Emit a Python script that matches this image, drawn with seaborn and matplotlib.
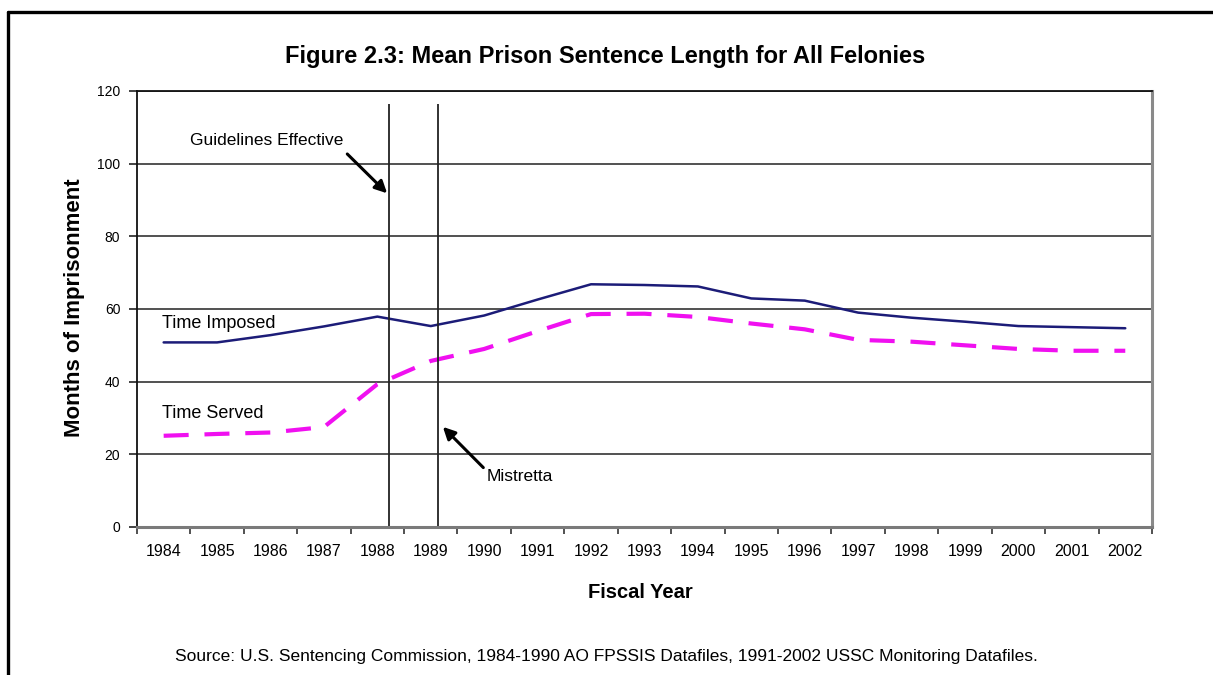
import numpy as np
import pandas as pd
import matplotlib
matplotlib.use("Agg")
import matplotlib.pyplot as plt
import seaborn as sns
from matplotlib.lines import Line2D

# Fiscal years on the category axis
years = ["1984", "1985", "1986", "1987", "1988", "1989", "1990", "1991", "1992", "1993",
         "1994", "1995", "1996", "1997", "1998", "1999", "2000", "2001", "2002"]

# Mean months of imprisonment
time_imposed = [50.8, 50.8, 52.8, 55.2, 57.9, 55.3, 58.2, 62.6, 66.8, 66.6,
                66.2, 62.9, 62.3, 59.0, 57.6, 56.5, 55.3, 55.0, 54.7]
time_served = [25.1, 25.6, 26.0, 27.5, 39.3, 45.7, 49.0, 53.9, 58.6, 58.7,
               57.8, 56.0, 54.4, 51.5, 51.0, 50.0, 49.0, 48.5, 48.5]

series_names = ["Time Imposed", "Time Served"]
y_ticks = [0, 20, 40, 60, 80, 100, 120]

# Policy events marked on the timeline (position in category units)
events = ["Guidelines Effective", "Mistretta"]
event_pos = [4.22, 5.14]

sns.set_theme(style="white")
plt.rcParams["font.family"] = ["Liberation Sans", "DejaVu Sans"]
plt.rcParams.update({"text.color": "black", "axes.labelcolor": "black",
                     "xtick.color": "black", "ytick.color": "black"})

fig = plt.figure(figsize=(12.13, 6.75), dpi=100)
ax = fig.add_axes([0.1129, 0.2193, 0.8368, 0.6459])

idx = np.arange(len(years))
df = pd.DataFrame({
    "pos": np.concatenate([idx, idx]),
    "months": time_imposed + time_served,
    "series": [series_names[0]] * len(years) + [series_names[1]] * len(years),
})

sns.lineplot(data=df[df.series == series_names[0]], x="pos", y="months",
             color="#1c1c78", linewidth=1.8, ax=ax, legend=False)
sns.lineplot(data=df[df.series == series_names[1]], x="pos", y="months",
             color="#f010f0", linewidth=3.0, ax=ax, legend=False,
             dashes=False)
ax.lines[-1].set_dashes((6.0, 3.8))

ax.set_xlim(-0.5, len(years) - 0.5)
ax.set_ylim(0, 120)

# Horizontal gridlines
ax.set_yticks(y_ticks)
ax.set_yticklabels([str(v) for v in y_ticks], fontsize=10)
ax.yaxis.grid(True, color="#222222", linewidth=1.1)
ax.xaxis.grid(False)
ax.set_axisbelow(True)

# Category axis: tick marks between years, labels at year centers
ax.set_xticks(np.arange(-0.5, len(years), 1.0))
ax.set_xticklabels([])
ax.set_xticks(idx, minor=True)
ax.set_xticklabels(years, minor=True, fontsize=11.5)
ax.tick_params(axis="x", which="major", direction="out", length=5, width=1.2,
               color="#333333", bottom=True)
ax.tick_params(axis="x", which="minor", length=0, pad=12)
ax.tick_params(axis="y", direction="out", length=6, width=1.2, color="#222222",
               left=True, pad=6)
ax.set_xlabel("")
ax.set_ylabel("")

for side in ["left", "top"]:
    ax.spines[side].set_color("#111111")
    ax.spines[side].set_linewidth(1.3)
ax.spines["right"].set_color("#8a8a8a")
ax.spines["right"].set_linewidth(2.2)
ax.spines["bottom"].set_color("#7a7a7a")
ax.spines["bottom"].set_linewidth(2.2)

# Event marker lines
ax.vlines(event_pos, 0, 116.5, color="#222222", linewidth=1.3)

ax.annotate("", xy=(event_pos[0], 91.3), xytext=(3.4, 103.2),
            arrowprops=dict(arrowstyle="-|>", color="black", lw=2.2,
                            mutation_scale=18))
ax.text(0.49, 106.3, events[0], fontsize=12.5, ha="left", va="center")

ax.annotate("", xy=(event_pos[1] + 0.05, 28.1), xytext=(6.02, 15.8),
            arrowprops=dict(arrowstyle="-|>", color="black", lw=2.2,
                            mutation_scale=18))
ax.text(6.05, 13.8, events[1], fontsize=12.5, ha="left", va="center")

# Series labels placed beside the lines
ax.text(-0.03, 56.1, series_names[0], fontsize=13, ha="left", va="center")
ax.text(-0.03, 31.1, series_names[1], fontsize=13, ha="left", va="center")

fig.text(0.4988, 0.9156, "Figure 2.3: Mean Prison Sentence Length for All Felonies",
         fontsize=17, fontweight="bold", ha="center", va="center")
fig.text(0.0618, 0.5437, "Months of Imprisonment", fontsize=16, fontweight="bold",
         rotation=90, ha="center", va="center")
fig.text(0.5276, 0.1215, "Fiscal Year", fontsize=14.5, fontweight="bold",
         ha="center", va="center")
fig.text(0.5, 0.0267,
         "Source: U.S. Sentencing Commission, 1984-1990 AO FPSSIS Datafiles, "
         "1991-2002 USSC Monitoring Datafiles.",
         fontsize=12.5, ha="center", va="center")

# Outer frame along the top and left edges
fig.add_artist(Line2D([0.0066, 0.0066], [0.0, 0.982], color="black", linewidth=2.4,
                      transform=fig.transFigure))
fig.add_artist(Line2D([0.0066, 1.0], [0.982, 0.982], color="black", linewidth=2.4,
                      transform=fig.transFigure))

fig.savefig("out.png", dpi=100, facecolor="white")
